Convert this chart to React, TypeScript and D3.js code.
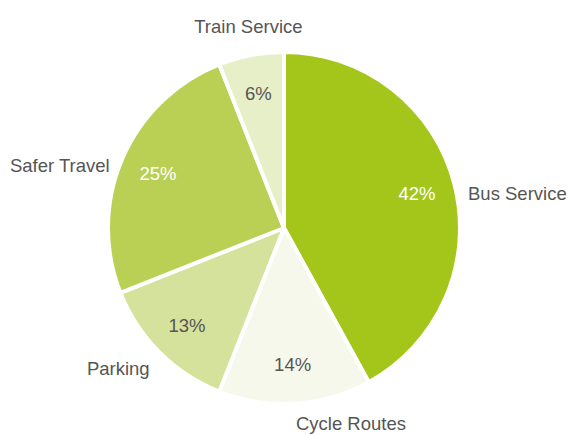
import React from "react"
import { pie, arc, PieArcDatum } from "d3"

const width = 569
const height = 435

const categories = ["Bus Service", "Cycle Routes", "Parking", "Safer Travel", "Train Service"]
const values = [42, 14, 13, 25, 6]
const colors = ["#a4c61a", "#f5f8ea", "#d5e29b", "#b9d054", "#e6efc8"]
const innerTextColors = ["#ffffff", "#555555", "#555555", "#ffffff", "#555555"]

const cx = 284
const cy = 228
const radius = 176

type Slice = { name: string; value: number; i: number }

function App() {
  const data: Slice[] = categories.map((name, i) => ({ name, value: values[i], i }))

  const arcs = pie<Slice>()
    .value(d => d.value)
    .sort(null)(data)

  const arcGen = arc<PieArcDatum<Slice>>()
    .innerRadius(0)
    .outerRadius(radius)

  const pctArc = arc<PieArcDatum<Slice>>()
    .innerRadius(radius * 0.78)
    .outerRadius(radius * 0.78)

  const labelR = 190

  // outside labels: side decides the anchor, top label sits above its point
  const outerLabel = (d: PieArcDatum<Slice>) => {
    const mid = (d.startAngle + d.endAngle) / 2
    const s = Math.sin(mid)
    const c = Math.cos(mid)
    const x = s * labelR
    let y = -c * labelR
    if (c > 0.9) y -= 15
    else if (c >= 0) y += 13
    else y += 6
    let anchor = "middle"
    if (s > 0.05) anchor = "start"
    else if (s < -0.3) anchor = "end"
    return { x, y, anchor }
  }

  return (
    <svg width={width} height={height} style={{ position: "absolute", left: 0, top: 0 }}
      fontFamily="'Liberation Sans', Arial, Helvetica, sans-serif">
      <g transform={`translate(${cx}, ${cy})`}>
        {arcs.map(d => (
          <path key={d.data.name} d={arcGen(d) || ""} fill={colors[d.data.i]}
            stroke="#ffffff" strokeWidth={4} strokeLinejoin="round" />
        ))}
        {arcs.map(d => {
          const [x, y] = pctArc.centroid(d)
          return (
            <text key={"p" + d.data.name} x={x} y={y} dy="0.35em" textAnchor="middle"
              fontSize={18.5} fill={innerTextColors[d.data.i]}>
              {d.data.value}%
            </text>
          )
        })}
        {arcs.map(d => {
          const p = outerLabel(d)
          return (
            <text key={"l" + d.data.name} x={p.x} y={p.y} dy="0.35em" textAnchor={p.anchor}
              fontSize={18.5} fill="#555555">
              {d.data.name}
            </text>
          )
        })}
      </g>
    </svg>
  )
}

export default App
